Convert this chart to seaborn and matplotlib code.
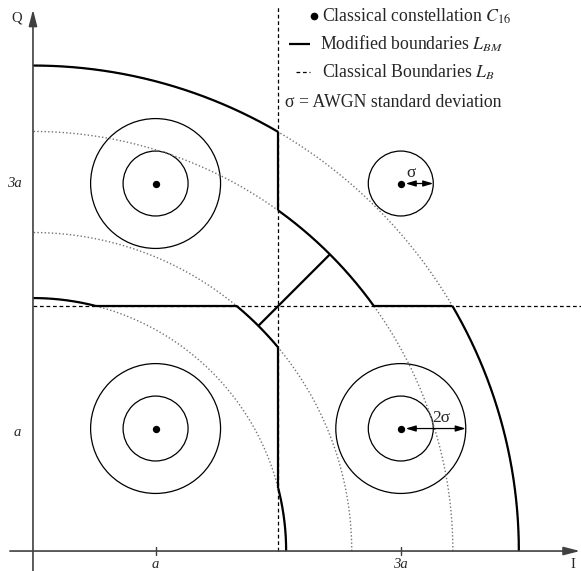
import numpy as np
import matplotlib
matplotlib.use("Agg")
import matplotlib.pyplot as plt
import seaborn as sns

# Constellation points (in units of a), first quadrant of 16-QAM
points_i = [1, 1, 3, 3]
points_q = [1, 3, 1, 3]
# which points carry the 2-sigma ring
two_sigma_ring = [True, True, True, False]

# Noise standard deviation (in units of a)
sigma = 0.265

# Radii of the amplitude circles used by the modified decision boundaries
ring_radii = [2.065, 2.60, 3.425, 3.963]

# Classical boundary position
classical_boundary = 2.0

tick_values = [1, 3]
tick_labels = ["a", "3a"]

sns.set_theme(style="white")
plt.rcParams["font.family"] = ["Liberation Serif", "DejaVu Serif"]
plt.rcParams["mathtext.fontset"] = "stix"

fig = plt.figure(figsize=(5.81, 5.71), dpi=100)
ax = fig.add_axes([0, 0, 1, 1])
ax.set_xlim(-0.269, 4.470)
ax.set_ylim(-0.163, 4.498)
ax.axis("off")

thick = dict(color="black", lw=1.6, solid_capstyle="butt")
dotted = dict(color="0.45", lw=1.0, linestyle=(0, (1, 1.6)))
dashed = dict(color="black", lw=0.9, linestyle=(0, (3, 2.2)))


def arc(r, t0, t1, **kw):
    t = np.linspace(np.radians(t0), np.radians(t1), 200)
    ax.plot(r * np.cos(t), r * np.sin(t), **kw)


# Dotted amplitude circles
for r in ring_radii:
    arc(r, 0, 90, **dotted)

# Classical boundaries
b = classical_boundary
ax.plot([b, b], [0, 4.457], **dashed)
ax.plot([0, 4.47], [b, b], **dashed)

# Modified boundaries
r1, r2, r3, r4 = ring_radii
deg = np.degrees
arc(r4, deg(np.arccos(b / r4)), 90, **thick)
arc(r4, 0, deg(np.arcsin(b / r4)), **thick)
arc(r3, deg(np.arcsin(b / r3)), deg(np.arccos(b / r3)), **thick)
arc(r2, deg(np.arccos(b / r2)), deg(np.arcsin(b / r2)), **thick)
arc(r1, deg(np.arcsin(b / r1)), 90, **thick)
arc(r1, 0, deg(np.arccos(b / r1)), **thick)


def h(r):
    return np.sqrt(r ** 2 - b ** 2)


ax.plot([b, b], [h(r3), h(r4)], **thick)
ax.plot([b, b], [h(r1), h(r2)], **thick)
ax.plot([h(r1), h(r2)], [b, b], **thick)
ax.plot([h(r3), h(r4)], [b, b], **thick)
ax.plot([r2 / np.sqrt(2), r3 / np.sqrt(2)], [r2 / np.sqrt(2), r3 / np.sqrt(2)], **thick)

# Noise circles around each point
for xi, yq, ring2 in zip(points_i, points_q, two_sigma_ring):
    ax.add_patch(plt.Circle((xi, yq), sigma, fill=False, ec="black", lw=0.9))
    if ring2:
        ax.add_patch(plt.Circle((xi, yq), 2 * sigma, fill=False, ec="black", lw=0.9))

# Constellation points
sns.scatterplot(x=points_i, y=points_q, color="black", s=28, edgecolor="black",
                linewidth=0, ax=ax, legend=False, zorder=5)

# Sigma annotations
arrow_kw = dict(arrowstyle="<|-|>,head_length=0.5,head_width=0.15", color="black",
                lw=0.9, shrinkA=0, shrinkB=0, mutation_scale=12)
ax.annotate("", xy=(3 + sigma, 3), xytext=(3.04, 3), arrowprops=arrow_kw)
ax.text(3.08, 3.02, "σ", fontsize=12.5, ha="center", va="bottom")
ax.annotate("", xy=(3 + 2 * sigma, 1), xytext=(3.04, 1), arrowprops=arrow_kw)
ax.text(3.33, 1.02, "2σ", fontsize=12.5, ha="center", va="bottom")

# Axes with arrow heads
axis_arrow = dict(arrowstyle="-|>,head_length=0.7,head_width=0.18", color="0.25",
                  lw=1.2, shrinkA=0, shrinkB=0, mutation_scale=14)
ax.annotate("", xy=(4.462, 0), xytext=(-0.188, 0), arrowprops=axis_arrow)
ax.annotate("", xy=(0, 4.42), xytext=(0, -0.163), arrowprops=axis_arrow)
ax.text(-0.13, 4.35, "Q", fontsize=10.5, ha="center", va="center")
ax.text(4.405, -0.108, "I", fontsize=10.5, ha="center", va="center")

for v, lab in zip(tick_values, tick_labels):
    ax.plot([v, v], [-0.03, 0.03], color="0.25", lw=1.0)
    ax.text(v, -0.11, lab, fontsize=10.5, style="italic", ha="center", va="center")
ax.text(-0.155, 3.0, "3a", fontsize=10.5, style="italic", ha="center", va="center")
ax.text(-0.13, 0.97, "a", fontsize=10.5, style="italic", ha="center", va="center")

# Key
fs = 12.8
ax.plot([2.29], [4.367], "o", color="black", ms=4.5)
ax.text(2.357, 4.367, "Classical constellation $C_{16}$", fontsize=fs, va="center")
ax.plot([2.088, 2.259], [4.139, 4.139], **thick)
ax.text(2.341, 4.139, "Modified boundaries $L_{BM}$", fontsize=fs, va="center")
ax.plot([2.145, 2.259], [3.910, 3.910], **dashed)
ax.text(2.357, 3.910, "Classical Boundaries $L_{B}$", fontsize=fs, va="center")
ax.text(2.055, 3.665, "σ = AWGN standard deviation", fontsize=fs, va="center")

fig.savefig("out.png", dpi=100)
